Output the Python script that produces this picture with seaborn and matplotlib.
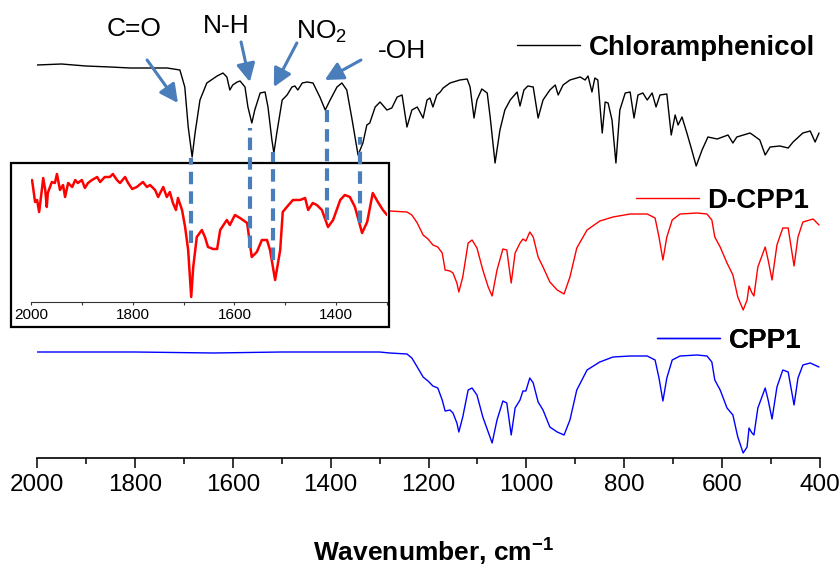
import numpy as np
import pandas as pd
import seaborn as sns
import matplotlib
matplotlib.use("Agg")
import matplotlib.pyplot as plt
from matplotlib.lines import Line2D
from matplotlib.patches import Rectangle
from matplotlib.ticker import MultipleLocator

# ---------------- data (arbitrary offset units) ----------------
chl_wn = [2000, 1950, 1900, 1850, 1810, 1760, 1734, 1708, 1698, 1691, 1683, 1677, 1667, 1653, 1632,
          1620, 1612, 1606, 1600, 1591, 1585, 1575, 1569, 1561, 1555, 1544, 1534, 1528, 1520, 1516,
          1510, 1499, 1489, 1479, 1473, 1467, 1458, 1448, 1436, 1422, 1411, 1401, 1387, 1377, 1367,
          1356, 1344, 1334, 1326, 1320, 1309, 1299, 1285, 1275, 1264, 1254, 1244, 1234, 1223, 1211,
          1203, 1197, 1191, 1183, 1176, 1170, 1156, 1136, 1121, 1115, 1107, 1101, 1091, 1080, 1074,
          1064, 1054, 1044, 1033, 1019, 1013, 1005, 997, 986, 976, 966, 952, 941, 935, 925,
          911, 890, 880, 874, 866, 860, 854, 845, 839, 833, 825, 817, 809, 798, 788,
          780, 772, 762, 753, 743, 735, 727, 713, 704, 696, 690, 682, 672, 662, 653,
          641, 629, 610, 588, 578, 570, 543, 537, 523, 512, 502, 482, 465, 455, 435,
          420, 410, 402]
chl_t = [393, 394, 392, 391, 390, 390, 390, 388, 371, 331, 301, 325, 358, 375, 382,
         385, 381, 368, 373, 376, 377, 371, 351, 335, 348, 365, 366, 351, 318, 305,
         325, 358, 363, 371, 372, 368, 375, 376, 375, 361, 348, 358, 371, 375, 368,
         338, 303, 315, 333, 335, 351, 356, 348, 350, 361, 363, 331, 348, 351, 340,
         358, 360, 351, 363, 366, 370, 375, 378, 379, 371, 340, 358, 369, 365, 341,
         295, 328, 348, 358, 366, 352, 368, 372, 371, 340, 358, 368, 373, 363, 373,
         378, 381, 378, 382, 366, 380, 378, 325, 356, 355, 338, 295, 348, 365, 366,
         340, 363, 365, 358, 365, 351, 363, 364, 323, 343, 333, 341, 325, 308, 292,
         308, 321, 319, 323, 315, 321, 325, 323, 318, 303, 311, 312, 310, 316, 325,
         327, 316, 325]

dcpp_wn = [1279, 1244, 1234, 1223, 1211, 1201, 1191, 1181, 1172, 1166, 1156, 1150, 1142, 1138, 1130,
           1119, 1111, 1101, 1089, 1078, 1070, 1060, 1048, 1040, 1031, 1023, 1013, 1007, 1001, 993,
           986, 976, 966, 952, 937, 923, 911, 897, 876, 850, 823, 788, 753, 737, 729,
           721, 713, 702, 686, 651, 631, 621, 615, 604, 590, 578, 568, 557, 549, 545,
           539, 535, 527, 512, 506, 498, 488, 476, 465, 453, 445, 435, 414, 402]
dcpp_t = [247, 246, 243, 235, 223, 219, 213, 211, 205, 188, 187, 185, 175, 166, 181,
          215, 218, 210, 188, 171, 162, 188, 209, 208, 175, 205, 215, 219, 217, 226,
          221, 201, 191, 176, 168, 164, 181, 210, 228, 237, 241, 244, 244, 240, 221,
          198, 221, 238, 244, 245, 244, 238, 221, 211, 195, 183, 161, 148, 158, 172,
          165, 162, 191, 211, 198, 178, 213, 230, 230, 192, 221, 236, 239, 233]

cpp_wn = [2000, 1800, 1640, 1500, 1300, 1279, 1244, 1234, 1223, 1211, 1201, 1191, 1181, 1172, 1166,
          1156, 1150, 1142, 1138, 1130, 1119, 1111, 1101, 1089, 1078, 1070, 1060, 1048, 1040, 1031,
          1023, 1013, 1007, 1001, 993, 986, 976, 966, 952, 937, 923, 911, 897, 876, 850,
          823, 788, 753, 737, 729, 721, 713, 702, 686, 651, 631, 621, 615, 604, 590,
          578, 568, 557, 549, 545, 539, 535, 527, 512, 506, 498, 488, 476, 465, 453,
          445, 435, 420, 402]
cpp_t = [106, 106, 105, 106, 106, 105, 104, 100, 91, 81, 77, 72, 70, 58, 47,
         48, 45, 35, 26, 41, 68, 70, 63, 41, 26, 15, 38, 57, 55, 23,
         50, 58, 67, 67, 80, 75, 56, 48, 31, 26, 23, 38, 68, 88, 96,
         101, 102, 102, 98, 80, 57, 80, 98, 102, 103, 102, 96, 78, 68, 50,
         43, 21, 5, 11, 30, 25, 23, 50, 70, 58, 39, 71, 88, 86, 53,
         80, 93, 95, 91]

# inset: D-CPP1, 2000-1300 cm-1
ins_wn = [1998, 1996, 1992, 1988, 1984, 1978, 1976, 1972, 1969, 1967, 1959, 1953, 1949, 1943, 1937,
          1933, 1927, 1919, 1913, 1908, 1900, 1894, 1888, 1880, 1870, 1864, 1855, 1845, 1839, 1831,
          1825, 1815, 1809, 1801, 1792, 1780, 1772, 1766, 1756, 1750, 1740, 1733, 1727, 1721, 1715,
          1711, 1703, 1697, 1691, 1685, 1681, 1674, 1664, 1658, 1652, 1642, 1634, 1628, 1615, 1609,
          1599, 1589, 1575, 1566, 1556, 1546, 1536, 1530, 1520, 1510, 1505, 1497, 1485, 1471, 1461,
          1455, 1446, 1438, 1428, 1416, 1406, 1392, 1383, 1373, 1363, 1349, 1339, 1328, 1318, 1308,
          1300]
ins_t = [122, 115, 100, 102, 90, 115, 124, 112, 95, 109, 120, 119, 128, 112, 117,
         105, 119, 115, 122, 119, 122, 114, 119, 122, 125, 120, 125, 125, 128, 122,
         119, 125, 119, 113, 115, 120, 115, 117, 112, 105, 115, 105, 110, 99, 92,
         104, 92, 75, 52, 5, 35, 65, 72, 65, 55, 53, 53, 72, 82, 77,
         87, 84, 79, 45, 50, 62, 62, 52, 22, 52, 90, 95, 102, 102, 104,
         92, 99, 97, 92, 75, 82, 102, 107, 105, 95, 69, 80, 109, 100, 92,
         87]

# annotations
band_labels = ["C=O", "N-H", r"NO$_\mathregular{2}$", "-OH"]
band_wn = [1685, 1565, 1518, 1407, 1340]
series_names = ["Chloramphenicol", "D-CPP1", "CPP1"]
series_colors = ["black", "#ff0000", "#0000ff"]
main_ticks = [2000, 1800, 1600, 1400, 1200, 1000, 800, 600, 400]
inset_ticks = [2000, 1800, 1600, 1400]

# ---------------- style ----------------
sns.set_theme(style="white")
plt.rcParams["font.family"] = ["Liberation Sans", "DejaVu Sans"]
plt.rcParams["text.color"] = "black"
plt.rcParams["axes.labelcolor"] = "black"
plt.rcParams["mathtext.fontset"] = "custom"
plt.rcParams["mathtext.rm"] = "Liberation Sans"
plt.rcParams["mathtext.it"] = "Liberation Sans:italic"
plt.rcParams["mathtext.bf"] = "Liberation Sans:bold"

W, H = 840, 571
fig = plt.figure(figsize=(W / 100, H / 100), dpi=100)
ax = fig.add_axes([37 / W, 1 - 458 / H, 783 / W, 458 / H], zorder=0)
ax.patch.set_alpha(0)
ax.set_xlim(2000, 400)
ax.set_ylim(0, 458)

df_chl = pd.DataFrame({"wn": chl_wn, "t": chl_t})
df_d = pd.DataFrame({"wn": dcpp_wn, "t": dcpp_t})
df_c = pd.DataFrame({"wn": cpp_wn, "t": cpp_t})
line_kw = dict(lw=1.0, sort=False, estimator=None)
sns.lineplot(data=df_chl, x="wn", y="t", ax=ax, color=series_colors[0], **line_kw)
sns.lineplot(data=df_d, x="wn", y="t", ax=ax, color=series_colors[1], **line_kw)
sns.lineplot(data=df_c, x="wn", y="t", ax=ax, color=series_colors[2], **line_kw)
for ln in ax.lines:
    ln.set_solid_joinstyle("round")

for s in ["left", "top", "right"]:
    ax.spines[s].set_visible(False)
ax.spines["bottom"].set_color("black")
ax.spines["bottom"].set_linewidth(1.2)
ax.set_yticks([])
ax.set_ylabel("")
ax.xaxis.set_major_locator(MultipleLocator(200))
ax.xaxis.set_minor_locator(MultipleLocator(100))
ax.set_xticks(main_ticks)
ax.set_xticklabels([str(t) for t in main_ticks])
ax.tick_params(axis="x", which="major", direction="out", length=7.5, width=1.1, colors="black",
               labelsize=17.5, pad=4, bottom=True)
ax.tick_params(axis="x", which="minor", direction="out", length=4, width=1.1, colors="black", bottom=True)
ax.set_xlabel(r"Wavenumber, cm$^{\mathbf{-1}}$", fontsize=19, fontweight="bold", color="black")
ax.xaxis.set_label_coords(0.506, -0.207)
ax.xaxis.label.set_va("center")

# legends (one per trace, placed beside each trace)
leg_anchor = [(1019, 410), (776, 257), (733, 117)]
for name, col, anc in zip(series_names, series_colors, leg_anchor):
    h = Line2D([], [], color=col, lw=1.0)
    leg = ax.legend([h], [name], loc="center left", bbox_to_anchor=anc, bbox_transform=ax.transData,
                    frameon=False, borderpad=0, borderaxespad=0, handlelength=2.27, handletextpad=0.3,
                    prop={"weight": "bold", "size": 20}, labelcolor="black")
    ax.add_artist(leg)

# band labels and arrows
arrow_col = "#4a7ebb"
text_pos = [(1802, 429), (1614, 432), (1418, 426), (1254, 407)]
arrow_tail = [(1775, 398), (1583, 416), (1469, 415), (1338, 398)]
arrow_tip = [(1712, 355), (1565, 376), (1516, 371), (1412, 378)]
for lab, tp, tl, tip in zip(band_labels, text_pos, arrow_tail, arrow_tip):
    ax.text(tp[0], tp[1], lab, fontsize=19, ha="center", va="center", color="black")
    ax.annotate("", xy=tip, xytext=tl,
                arrowprops=dict(arrowstyle="-|>,head_length=0.55,head_width=0.28", color=arrow_col,
                                lw=2.2, mutation_scale=20, shrinkA=0, shrinkB=0))

# inset box + inset axes
box = Rectangle((11 / W, 1 - 327 / H), 378 / W, 164 / H, transform=fig.transFigure,
                facecolor="white", edgecolor="black", lw=1.6, zorder=1)
fig.add_artist(box)
axin = fig.add_axes([31 / W, 1 - 302 / H, 356 / W, 137 / H], zorder=2)
axin.patch.set_alpha(0)
df_in = pd.DataFrame({"wn": ins_wn, "t": ins_t})
sns.lineplot(data=df_in, x="wn", y="t", ax=axin, color="#ff0000", lw=1.8, sort=False, estimator=None)
for ln in axin.lines:
    ln.set_solid_joinstyle("round")
axin.set_xlim(2000, 1300)
axin.set_ylim(0, 137)
for s in ["left", "top", "right"]:
    axin.spines[s].set_visible(False)
axin.spines["bottom"].set_color("#333333")
axin.spines["bottom"].set_linewidth(0.8)
axin.set_yticks([])
axin.set_xlabel("")
axin.set_ylabel("")
axin.xaxis.set_minor_locator(MultipleLocator(100))
axin.set_xticks(inset_ticks)
axin.set_xticklabels([str(t) for t in inset_ticks])
axin.tick_params(axis="x", which="both", direction="out", length=2.5, width=0.8, colors="#333333",
                 labelsize=11, labelcolor="black", pad=1.5, bottom=True)

# dashed guide lines (drawn above the inset)
dash_top = [300, 330, 306, 348, 321]
dash_bot = [215, 210, 198, 238, 235]
for w, y0, y1 in zip(band_wn, dash_top, dash_bot):
    fig.add_artist(Line2D([w, w], [y1, y0], transform=ax.transData, color=arrow_col, lw=3,
                          linestyle=(0, (3.0, 1.7)), zorder=3))

fig.savefig("out.png", dpi=100)
